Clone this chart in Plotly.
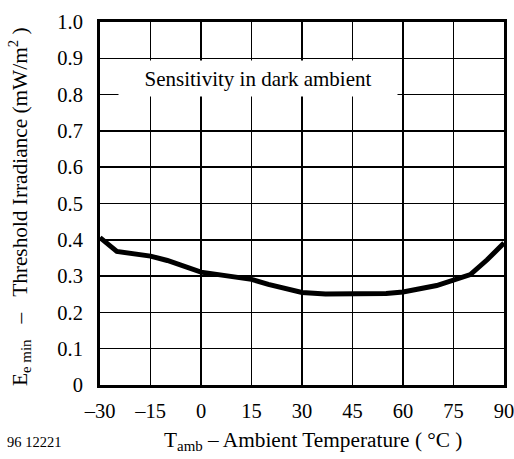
import plotly.graph_objects as go

# Data
temperature = [-30, -25, -15, -10, 0, 15, 20, 30, 37, 45, 55, 60, 70, 80, 85, 90]
threshold = [0.406, 0.368, 0.355, 0.343, 0.311, 0.291, 0.277, 0.255, 0.251, 0.250, 0.252, 0.256, 0.274, 0.304, 0.345, 0.391]

x_tickvals = [-30, -15, 0, 15, 30, 45, 60, 75, 90]
x_ticktext = ["\u201330", "\u201315", "0", "15", "30", "45", "60", "75", "90"]
y_tickvals = [0, 0.1, 0.2, 0.3, 0.4, 0.5, 0.6, 0.7, 0.8, 0.9, 1.0]
y_ticktext = ["0", "0.1", "0.2", "0.3", "0.4", "0.5", "0.6", "0.7", "0.8", "0.9", "1.0"]

FONT = "Liberation Serif, Times New Roman, serif"
NB = "\u00a0"

# Plot area in window pixels (page body margin is removed below)
W, H = 514, 459
plot_l, plot_r, plot_t, plot_b = 100, 504, 22, 385

fig = go.Figure()
fig.add_trace(go.Scatter(
    x=temperature, y=threshold, mode="lines",
    line=dict(color="black", width=5),
    hoverinfo="skip", showlegend=False,
))

fig.update_layout(
    width=W, height=H,
    margin=dict(l=plot_l, r=W - plot_r, t=plot_t, b=H - plot_b, pad=0, autoexpand=False),
    paper_bgcolor="white", plot_bgcolor="white",
    font=dict(family=FONT, size=20.5, color="black"),
    xaxis=dict(
        range=[-30, 90], tickvals=x_tickvals, ticktext=x_ticktext,
        showgrid=True, gridcolor="black", gridwidth=1.5,
        showline=True, linecolor="black", linewidth=3, mirror=True,
        ticks="outside", ticklen=5, tickcolor="rgba(0,0,0,0)",
        ticklabeloverflow="allow", automargin=False,
        zeroline=False, fixedrange=True,
    ),
    yaxis=dict(
        range=[0, 1.0], tickvals=y_tickvals, ticktext=y_ticktext,
        showgrid=True, gridcolor="black", gridwidth=1.5,
        showline=True, linecolor="black", linewidth=3, mirror=True,
        ticks="outside", ticklen=10, tickcolor="rgba(0,0,0,0)",
        automargin=False,
        zeroline=False, fixedrange=True,
    ),
    annotations=[
        dict(
            x=17, y=0.844, xref="x", yref="y",
            text="Sensitivity in dark ambient", showarrow=False,
            bgcolor="white", width=276, height=33,
            font=dict(family=FONT, size=21, color="black"),
        ),
        dict(
            x=313, y=441, xref="paper", yref="paper",
            text="T<sub>amb</sub> \u2013 Ambient Temperature ( \u00b0C )",
            showarrow=False, xanchor="center", yanchor="middle",
            font=dict(family=FONT, size=21.3, color="black"),
        ),
        dict(
            x=20, y=207, xref="paper", yref="paper",
            text="E<sub>e min</sub>" + NB * 3 + "\u2013" + NB * 3 + "Threshold Irradiance (mW/m<sup>2</sup> )",
            showarrow=False, textangle=-90, xanchor="center", yanchor="middle",
            font=dict(family=FONT, size=21.3, color="black"),
        ),
        dict(
            x=34, y=442, xref="paper", yref="paper",
            text="96 12221", showarrow=False, xanchor="center", yanchor="middle",
            font=dict(family=FONT, size=14.5, color="black"),
        ),
    ],
)

# convert window-pixel positions for paper-referenced annotations
for ann in fig.layout.annotations:
    if ann.xref == "paper":
        ann.x = (ann.x - plot_l) / (plot_r - plot_l)
        ann.y = (plot_b - ann.y) / (plot_b - plot_t)

fig.write_html(
    "out.html",
    config={"displayModeBar": False, "staticPlot": True},
    post_script="document.body.style.margin='0px';document.body.style.overflow='hidden';",
)
